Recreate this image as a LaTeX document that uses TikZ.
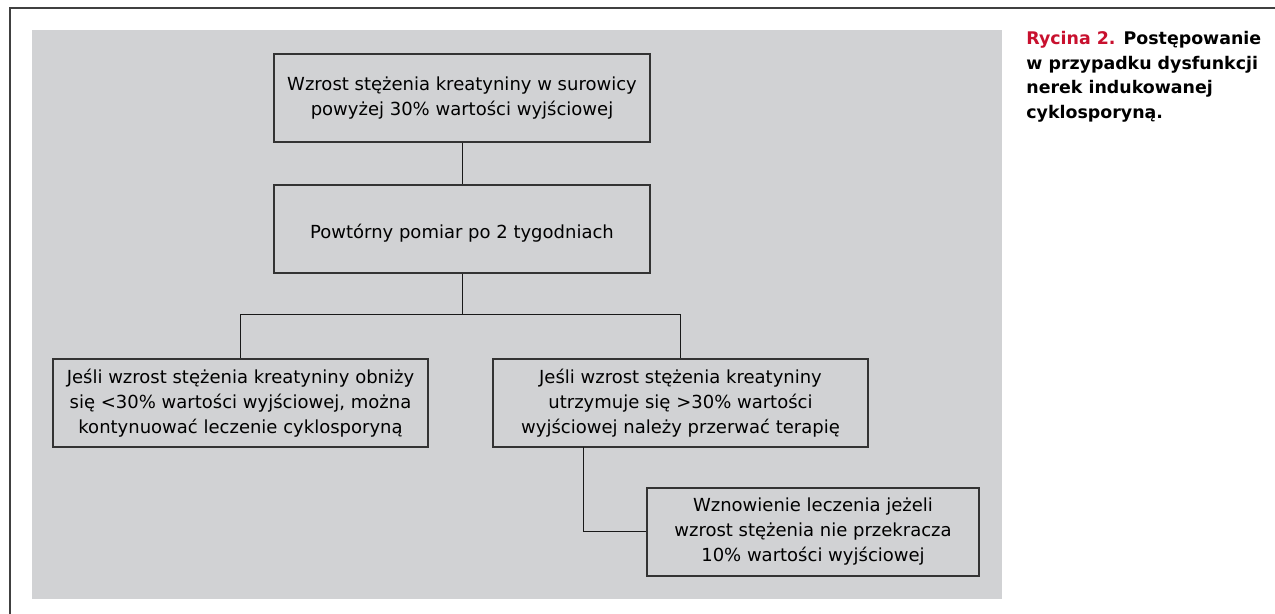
\documentclass[tikz,border=0pt]{standalone}
\usepackage{xcolor}
\usepackage{fontspec}
\setmainfont{DejaVu Sans}
\usepackage{tikz}
\usetikzlibrary{positioning}

\definecolor{panelgray}{HTML}{D1D2D4}
\definecolor{boxline}{HTML}{333333}
\definecolor{figred}{HTML}{C8102E}

\tikzset{
  box/.style={draw=boxline,line width=0.55pt,fill=panelgray,align=center,
    minimum height=44pt,inner sep=2pt,font=\fontsize{9}{12.5}\selectfont,
    execute at begin node={\rule{0pt}{11.6pt}}},
  link/.style={draw=black!90,line width=0.5pt}
}

\begin{document}
\begin{tikzpicture}[x=0.5pt,y=-0.5pt]
    \useasboundingbox (0,0) rectangle (1275,614);
    \draw[draw=black!75,line width=0.8pt] (10,614) -- (10,8) -- (1275,8);
    \fill[panelgray] (32,30) rectangle (1002,599);

    \node [box,minimum width=188pt] (rise) at (462,98)
        {Wzrost stężenia kreatyniny w surowicy\\powyżej 30\% wartości wyjściowej};
    \node [box,minimum width=188pt] (repeat) at (462,229)
        {Powtórny pomiar po 2 tygodniach};
    \node [box,minimum width=187.5pt] (lower) at (240.5,403)
        {Jeśli wzrost stężenia kreatyniny obniży\\się <30\% wartości wyjściowej, można\\kontynuować leczenie cyklosporyną};
    \node [box,minimum width=187.5pt] (stop) at (680.5,403)
        {Jeśli wzrost stężenia kreatyniny\\utrzymuje się >30\% wartości\\wyjściowej należy przerwać terapię};
    \node [box,minimum width=166pt] (resume) at (813,532)
        {Wznowienie leczenia jeżeli\\wzrost stężenia nie przekracza\\10\% wartości wyjściowej};

    \coordinate (split) at (462,315);
    \coordinate (drop) at (583,447);
    \draw[link] (rise) -- (repeat);
    \draw[link] (repeat) -- (split);
    \draw[link] (split) -| (lower);
    \draw[link] (split) -| (stop);
    \draw[link] (drop) |- (resume);

    \node [anchor=north west,inner sep=0pt,align=left,
        font=\fontsize{8.7}{12.3}\selectfont\bfseries] (caption) at (1026,31)
        {\textcolor{figred}{Rycina 2.} Postępowanie\\w przypadku dysfunkcji\\nerek indukowanej\\cyklosporyną.};
\end{tikzpicture}
\end{document}
